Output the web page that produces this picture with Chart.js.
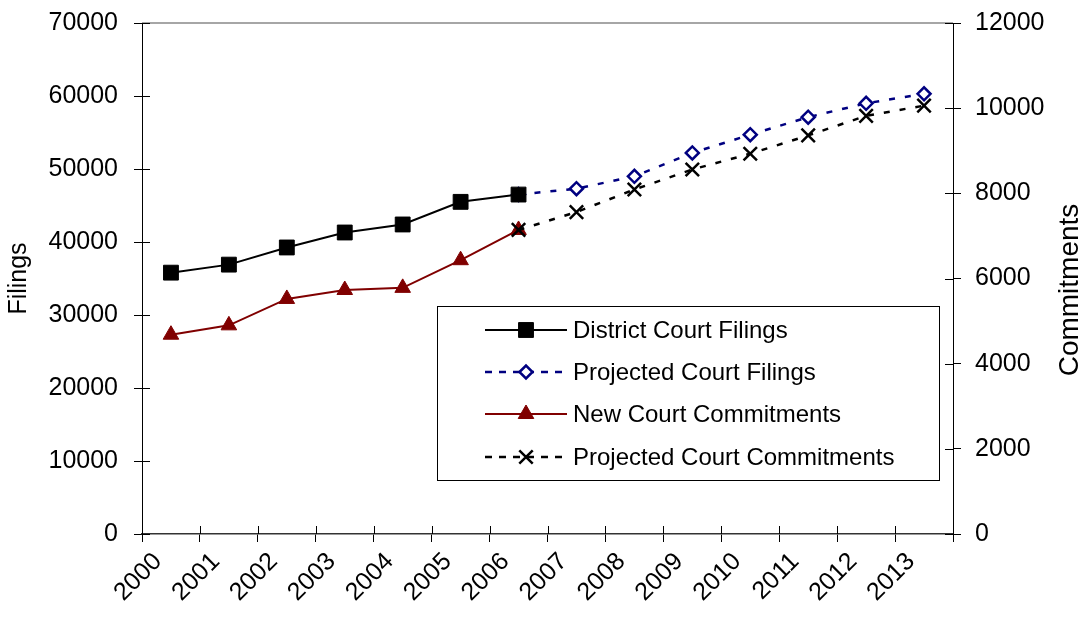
<!DOCTYPE html>
<html>
<head>
<meta charset="utf-8">
<script src="https://cdn.jsdelivr.net/npm/chart.js@4.4.1/dist/chart.umd.min.js"></script>
<style>
  html, body { margin: 0; padding: 0; background: #fff; }
  #wrap { width: 1083px; height: 620px; }
</style>
</head>
<body>
<div id="wrap"><canvas id="c" width="1083" height="620"></canvas></div>
<script>
// ---- data ----
const years = ['2000','2001','2002','2003','2004','2005','2006','2007','2008','2009','2010','2011','2012','2013'];
const districtFilings   = [35800, 36900, 39250, 41300, 42400, 45500, 46500, null, null, null, null, null, null, null];
const projectedFilings  = [null, null, null, null, null, null, 46500, 47300, 49000, 52200, 54700, 57100, 59000, 60300];
const newCommitments    = [4680, 4900, 5520, 5730, 5780, 6430, 7140, null, null, null, null, null, null, null];
const projCommitments   = [null, null, null, null, null, null, 7140, 7560, 8090, 8560, 8930, 9360, 9820, 10060];
const leftTicksMax = 70000, leftStep = 10000;
const rightTicksMax = 12000, rightStep = 2000;
const seriesNames = ['District Court Filings', 'Projected Court Filings', 'New Court Commitments', 'Projected Court Commitments'];

const FONT = '"Liberation Sans", Arial, sans-serif';

const datasets = [
  { label: seriesNames[0], data: districtFilings, yAxisID: 'yL', borderColor: '#000', backgroundColor: '#000',
    borderWidth: 2, pointStyle: 'rect', pointRadius: 10.5, pointBorderWidth: 1, order: 0 },
  { label: seriesNames[1], data: projectedFilings, yAxisID: 'yL', borderColor: '#000080', backgroundColor: '#fff',
    borderWidth: 2.5, borderDash: [6, 10], pointStyle: 'rectRot', pointRadius: 6.5, pointBorderWidth: 2.5, order: 1 },
  { label: seriesNames[2], data: newCommitments, yAxisID: 'yR', borderColor: '#800000', backgroundColor: '#800000',
    borderWidth: 2, pointStyle: 'triangle', pointRadius: 9, pointBorderWidth: 1, order: 3 },
  { label: seriesNames[3], data: projCommitments, yAxisID: 'yR', borderColor: '#000', backgroundColor: '#000',
    borderWidth: 2.5, borderDash: [6, 10], pointStyle: 'crossRot', pointRadius: 9.5, pointBorderWidth: 2.5, order: 2 }
];
datasets.forEach(d => { d.fill = false; d.tension = 0; d.spanGaps = false;
  d.pointBackgroundColor = d.backgroundColor; d.pointBorderColor = d.borderColor; d.pointHoverRadius = d.pointRadius; });

const frame = {
  id: 'frame',
  afterDraw(chart) {
    const ctx = chart.ctx, a = chart.chartArea;
    const x = chart.scales.x, yL = chart.scales.yL, yR = chart.scales.yR;
    ctx.save();
    // top border
    ctx.strokeStyle = '#888'; ctx.lineWidth = 1.5;
    ctx.beginPath(); ctx.moveTo(a.left, a.top); ctx.lineTo(a.right, a.top); ctx.stroke();
    // inner tick halves
    ctx.strokeStyle = '#000'; ctx.lineWidth = 1;
    yL.ticks.forEach((t, i) => { const py = Math.round(yL.getPixelForTick(i)) + 0.5;
      ctx.beginPath(); ctx.moveTo(a.left, py); ctx.lineTo(a.left + 8, py); ctx.stroke(); });
    yR.ticks.forEach((t, i) => { const py = Math.round(yR.getPixelForTick(i)) + 0.5;
      ctx.beginPath(); ctx.moveTo(a.right - 8, py); ctx.lineTo(a.right, py); ctx.stroke(); });
    for (let i = 0; i <= years.length; i++) {
      const px = Math.round(x.getPixelForValue(i - 0.5)) + 0.5;
      ctx.beginPath(); ctx.moveTo(px, a.bottom - 8); ctx.lineTo(px, a.bottom); ctx.stroke();
    }
    // axis titles
    ctx.fillStyle = '#000'; ctx.textAlign = 'center'; ctx.textBaseline = 'middle';
    ctx.font = '25px ' + FONT;
    ctx.save(); ctx.translate(19, (a.top + a.bottom) / 2); ctx.rotate(-Math.PI / 2); ctx.fillText('Filings', 0, 0); ctx.restore();
    ctx.font = '28px ' + FONT;
    ctx.save(); ctx.translate(1070, 290); ctx.rotate(-Math.PI / 2); ctx.fillText('Commitments', 0, 0); ctx.restore();

    // legend
    const bx = 437.5, by = 306.5, bw = 502, bh = 174;
    ctx.fillStyle = '#fff'; ctx.fillRect(bx, by, bw, bh);
    ctx.strokeStyle = '#000'; ctx.lineWidth = 1; ctx.strokeRect(bx, by, bw, bh);
    const rowsY = [330, 372, 414, 457];
    chart.data.datasets.forEach((d, i) => {
      const yy = rowsY[i];
      ctx.save();
      ctx.strokeStyle = d.borderColor; ctx.lineWidth = d.borderWidth;
      ctx.setLineDash(d.borderDash ? [7, 7] : []);
      ctx.beginPath(); ctx.moveTo(485, yy); ctx.lineTo(567, yy); ctx.stroke();
      ctx.setLineDash([]);
      ctx.fillStyle = d.backgroundColor; ctx.strokeStyle = d.borderColor; ctx.lineWidth = d.pointBorderWidth;
      Chart.helpers.drawPoint(ctx, { pointStyle: d.pointStyle, rotation: 0, radius: d.pointRadius, borderWidth: d.pointBorderWidth }, 526, yy);
      ctx.restore();
      ctx.fillStyle = '#000'; ctx.textAlign = 'left'; ctx.textBaseline = 'middle';
      ctx.font = '24px ' + FONT;
      ctx.fillText(d.label, 573, yy + 1);
    });
    ctx.restore();
  }
};

const plainTick = v => String(v);

new Chart(document.getElementById('c'), {
  type: 'line',
  data: { labels: years, datasets },
  options: {
    responsive: false, animation: false,
    layout: { padding: { top: 23, left: 0, right: 0, bottom: 0 } },
    plugins: { legend: { display: false }, tooltip: { enabled: false } },
    scales: {
      x: {
        type: 'category', offset: true,
        grid: { display: true, offset: true, drawOnChartArea: false, drawTicks: true, tickLength: 8, color: '#000', lineWidth: 1 },
        border: { display: true, color: '#333', width: 1.5 },
        ticks: { autoSkip: false, minRotation: 45, maxRotation: 45, color: '#000', font: { family: FONT, size: 25 }, padding: 5, labelOffset: -13 },
        afterFit(s) { s.height = 86; s.paddingLeft = 0; s.paddingRight = 0; }
      },
      yL: {
        type: 'linear', position: 'left', min: 0, max: leftTicksMax,
        grid: { display: true, drawOnChartArea: false, drawTicks: true, tickLength: 8, color: '#000', lineWidth: 1 },
        border: { display: true, color: '#000', width: 1 },
        ticks: { stepSize: leftStep, color: '#000', font: { family: FONT, size: 25 }, padding: 16, callback: plainTick },
        afterFit(s) { s.width = 142; s.paddingTop = 0; s.paddingBottom = 0; }
      },
      yR: {
        type: 'linear', position: 'right', min: 0, max: rightTicksMax,
        grid: { display: true, drawOnChartArea: false, drawTicks: true, tickLength: 8, color: '#000', lineWidth: 1 },
        border: { display: true, color: '#000', width: 1 },
        ticks: { stepSize: rightStep, color: '#000', font: { family: FONT, size: 25 }, padding: 14, callback: plainTick },
        afterFit(s) { s.width = 130; s.paddingTop = 0; s.paddingBottom = 0; }
      }
    }
  },
  plugins: [frame]
});
</script>
</body>
</html>
